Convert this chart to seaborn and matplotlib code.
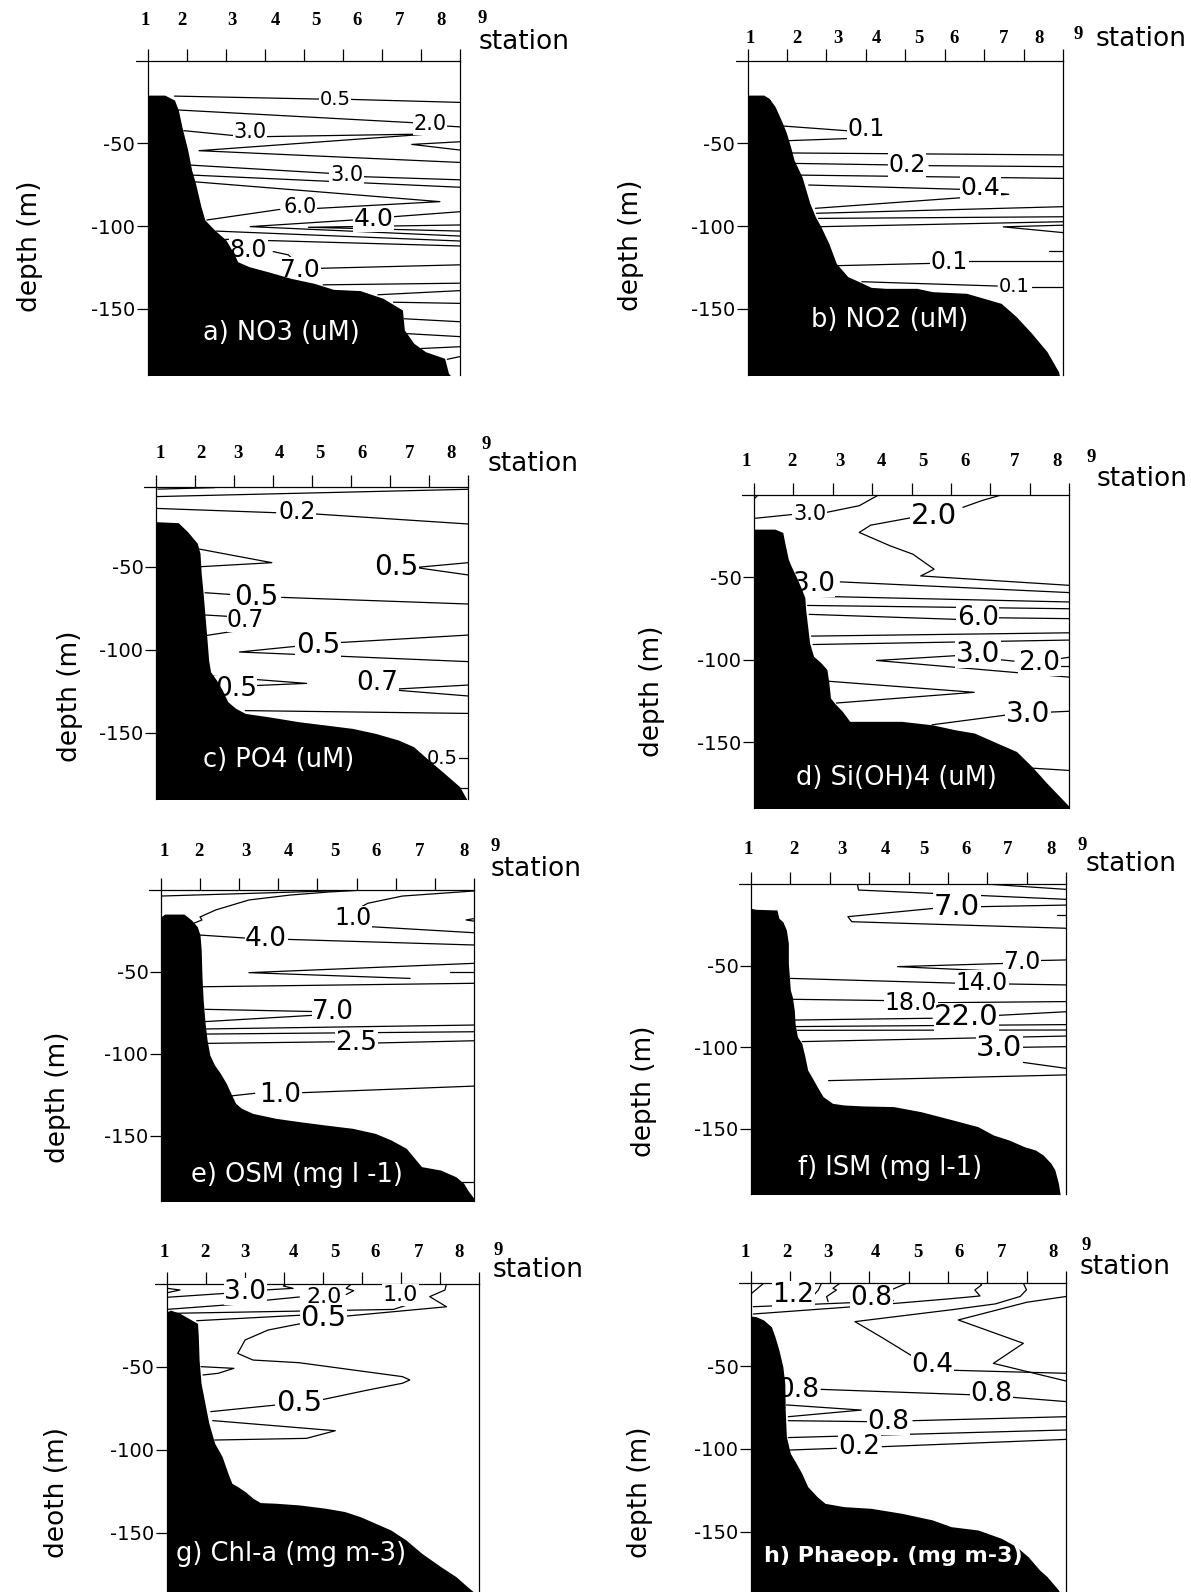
import matplotlib
matplotlib.use("Agg")
import matplotlib.pyplot as plt
import seaborn as sns

# ---------------- data (x = distance along section, 0..8 ; d = depth in m) -------------
station_labels = ["1", "2", "3", "4", "5", "6", "7", "8", "9"]

# panel a) NO3
a_bathy_x = [0, 0.44, 0.69, 0.79, 0.88, 1.03, 1.13, 1.23, 1.37, 1.47, 1.72, 2.01, 2.21, 2.31, 2.6, 3.09,
             3.68, 4.27, 4.76, 5.45, 6.03, 6.53, 6.58, 6.82, 7.12, 7.61, 7.71, 7.75]
a_bathy_d = [-20.8, -20.8, -23.8, -29.8, -39.9, -54.0, -66.1, -74.2, -88.3, -96.3, -102.4, -108.4, -116.5,
             -121.5, -124.5, -127.6, -131.6, -134.6, -138.2, -139.0, -143.6, -150.7, -162.8, -170.8,
             -175.9, -179.9, -188.9, -190]
a_lines = [
    [(0.69, -21.4), (4.42, -23.2)], [(5.2, -23.4), (8, -25.2)],
    [(0.79, -29.8), (6.82, -37.5)], [(7.65, -39.5), (8, -40)],
    [(0.93, -42.3), (2.23, -45.3)], [(2.99, -45.9), (7.21, -44.3), (1.32, -54.4), (8, -61.5)],
    [(8, -49.0), (6.77, -50.6), (8, -54.0)],
    [(1.09, -63.1), (4.68, -68.1)], [(5.49, -70.1), (8, -72)],
    [(1.0, -69), (8, -76.5)],
    [(1.1, -73), (7.49, -85.2), (4.33, -89.3)], [(3.39, -89.9), (1.52, -96.3)],
    [(8, -91.3), (6.3, -94.3)], [(5.27, -96.3), (2.63, -100.3), (8, -106)],
    [(8, -99.3), (4.12, -100.7), (8, -103)],
    [(1.75, -103), (8, -109)], [(2.0, -108), (8, -112)],
    [(3.22, -115.4), (3.61, -117.4), (3.73, -120.4)],
    [(4.42, -125.5), (8, -123.4)],
    [(4.5, -135.5), (8, -134.5)], [(5.9, -141.5), (8, -139)], [(6.3, -146), (8, -146.7)],
    [(6.58, -156), (8, -157.8)], [(6.65, -165), (8, -166.8)], [(7.0, -174), (8, -172.9)],
    [(7.68, -180.5), (8, -178.9)],
]
a_labels = [("0.5", 4.81, -23.2, 14), ("2.0", 7.24, -38.3, 15), ("3.0", 2.62, -43, 15),
            ("3.0", 5.1, -69.1, 15), ("6.0", 3.91, -88.3, 15), ("4.0", 5.79, -95.8, 18),
            ("8.0", 2.59, -114.5, 17), ("7.0", 3.91, -126.5, 18)]
a_station_x = [-0.05, 0.88, 2.16, 3.27, 4.32, 5.37, 6.46, 7.53, 8.57]

# panel b) NO2
b_bathy_x = [0, 0.41, 0.55, 0.7, 0.89, 0.99, 1.09, 1.18, 1.38, 1.48, 1.58, 1.72, 1.86, 2.06, 2.25, 2.54,
             2.83, 3.13, 3.51, 4.29, 4.68, 5.55, 6.43, 6.81, 7.2, 7.59, 7.88, 7.9]
b_bathy_d = [-20.8, -20.8, -22.8, -27.8, -37.9, -44, -52, -60.1, -70.2, -78.2, -86.3, -94.4, -100.4,
             -110.5, -122.6, -130.6, -133.7, -137.1, -137.7, -137.7, -139.7, -140.7, -146.8, -154.8,
             -164.9, -176, -188.1, -190]
b_lines = [
    [(0.89, -39.5), (2.6, -42.5)], [(3.25, -45.5), (3.37, -46.4), (0.99, -48.4)],
    [(1.0, -55.8), (8, -57)],
    [(1.1, -62.1), (3.55, -63)], [(4.6, -63.5), (8, -64.1)],
    [(1.3, -69.2), (8, -71.2)],
    [(1.55, -75.2), (5.4, -77.8)], [(6.35, -80.2), (6.62, -80.8), (1.72, -89.3)],
    [(1.75, -92.3), (8, -88.3)], [(1.8, -95.4), (8, -94.4)], [(1.85, -100.4), (8, -97.4)],
    [(8, -99.5), (6.48, -100.5), (8, -104)],
    [(7.64, -114.9), (8, -114.9)],
    [(2.25, -124), (4.68, -122.6)], [(5.55, -121.2), (8, -121.2)],
    [(2.9, -133.7), (6.33, -136.3)], [(7.2, -137.1), (8, -137.1)],
]
b_labels = [("0.1", 3.0, -41.5, 17), ("0.2", 4.05, -63.3, 17), ("0.4", 5.9, -77, 18),
            ("0.1", 5.12, -122, 17), ("0.1", 6.77, -136.5, 14)]
b_station_x = [0.07, 1.25, 2.3, 3.27, 4.34, 5.24, 6.5, 7.4, 8.39]

# panel c) PO4
c_bathy_x = [0, 0.57, 0.81, 1.06, 1.13, 1.16, 1.21, 1.26, 1.31, 1.35, 1.4, 1.55, 1.7, 1.84, 2.04, 2.29,
             2.88, 3.66, 4.35, 5.03, 5.62, 6.21, 6.6, 6.99, 7.39, 7.78, 7.96]
c_bathy_d = [-22.9, -23.5, -28.9, -35.9, -42, -54, -66.1, -80.1, -94.2, -106.2, -113.3, -118.3, -124.3,
             -131.3, -135.3, -138.4, -140.4, -143.4, -145.4, -147.4, -150.4, -154.4, -158.4, -166.5,
             -174.5, -182.5, -190]
c_lines = [
    [(0.05, -3.3), (1.5, -2.4)],
    [(0, -7.8), (8, -3.4)],
    [(0, -14.9), (3.07, -17.5)], [(4.1, -18.3), (8, -24.3)],
    [(1.11, -39.4), (2.97, -47.6), (1.16, -50)],
    [(8, -47.6), (6.65, -50.5), (8, -55)],
    [(1.26, -65.7), (1.89, -66.7)], [(3.22, -68.5), (8, -72.5)],
    [(1.26, -79.1), (1.9, -80)], [(2.65, -86.5), (1.31, -91.4)],
    [(8, -91.2), (4.64, -95.8)], [(3.66, -97.8), (2.14, -101.4), (8, -107.2)],
    [(1.4, -115.9), (3.86, -120.3), (1.45, -122.7)],
    [(8, -121.3), (5.95, -124), (8, -127.9)],
    [(2.29, -136.7), (8, -138.4)],
    [(7.7, -165.5), (8, -165.5)], [(7.75, -183.5), (8, -183.5)],
]
c_labels = [("0.2", 3.61, -17, 17), ("0.5", 6.16, -50, 20), ("0.5", 2.56, -68.1, 20),
            ("0.7", 2.3, -82, 17), ("0.5", 4.15, -97.2, 20), ("0.5", 2.05, -123.9, 19),
            ("0.7", 5.67, -120, 19), ("0.5", 7.34, -165.5, 14)]
c_station_x = [0.11, 1.16, 2.09, 3.17, 4.2, 5.28, 6.49, 7.57, 8.47]

# panel d) Si(OH)4
d_bathy_x = [0, 0.53, 0.73, 0.78, 0.87, 0.94, 1.02, 1.1, 1.21, 1.29, 1.31, 1.36, 1.41, 1.51, 1.7, 1.85,
             1.9, 1.94, 2.04, 2.24, 2.43, 2.77, 3.74, 4.52, 5.1, 5.59, 6.17, 6.66, 7.05, 7.43, 8.0, 8.0]
d_bathy_d = [-20.7, -20.7, -22.7, -28.8, -38.9, -43, -47.1, -51.1, -57.2, -62.3, -69.4, -79.5, -89.7,
             -97.8, -101.8, -105.9, -114, -123.1, -126.2, -131.2, -137.3, -137.3, -137.3, -139.4, -142.4,
             -144.4, -150.5, -155.6, -164.7, -174.8, -189, -190]
d_lines = [
    [(0, -2.5), (0.1, 0)],
    [(0, -14.2), (0.98, -11.8)], [(1.85, -10.5), (2.67, -6.5), (3.16, 0)],
    [(6.27, 0), (5.78, -3.4), (5.3, -7.5)],
    [(4.03, -13.6), (2.96, -18.3), (2.67, -22.7), (3.45, -30.8), (4.03, -35.9), (4.57, -45),
     (4.23, -49.1), (8, -54.8)],
    [(2.19, -52.7), (8, -59.2)],
    [(1.31, -61.3), (8, -64.9)],
    [(1.36, -67), (8, -69)],
    [(1.4, -72.4), (5.2, -75.5)], [(6.2, -74.5), (8, -75)], [(5.9, -77.5), (5.75, -79.7)],
    [(1.46, -85.6), (8, -83.6)],
    [(1.5, -90.7), (8, -88)],
    [(5.1, -97.5), (3.11, -100.4), (8, -110.5)],
    [(6.27, -100), (6.6, -100.8)], [(7.7, -99.5), (8, -98.4)], [(7.75, -103.6), (8, -103.6)],
    [(1.9, -113), (5.59, -119.7), (2.09, -126.2)],
    [(4.52, -139.4), (6.46, -133.3)], [(7.43, -131.8), (8, -131.2)],
    [(7.05, -165.7), (8, -167.1)],
]
d_labels = [("3.0", 1.41, -11.6, 15), ("2.0", 4.57, -13, 21), ("3.0", 1.51, -53.8, 19),
            ("6.0", 5.68, -74.5, 19), ("3.0", 5.68, -96.2, 20), ("2.0", 7.24, -101.8, 19),
            ("3.0", 6.95, -133, 20)]
d_station_x = [-0.19, 0.97, 2.19, 3.24, 4.28, 5.35, 6.61, 7.68, 8.55]

# panel e) OSM
e_bathy_x = [0, 0.1, 0.59, 0.78, 0.93, 1.0, 1.03, 1.05, 1.08, 1.13, 1.18, 1.25, 1.37, 1.52, 1.67, 1.81,
             1.91, 2.06, 2.35, 2.94, 3.53, 4.21, 4.9, 5.48, 5.88, 6.27, 6.66, 7.15, 7.54, 7.74, 7.84, 8.0,
             8.0]
e_bathy_d = [-16.3, -14.7, -14.7, -18.3, -22.4, -27.5, -36.7, -53, -67.2, -81.5, -91.6, -100.8, -106.9,
             -112, -118.1, -125.3, -130.3, -133.4, -136.5, -139.5, -141.5, -143.6, -145.6, -148.7,
             -152.7, -157.8, -169, -171.1, -175.2, -179.2, -183.3, -188.4, -190]
e_lines = [
    [(0, -3.7), (4.3, -0.6), (5.0, 0)],
    [(0.83, -20.4), (1.05, -18.3), (1.0, -16.5), (1.4, -12.2), (2.25, -6.1), (3.3, -3.1), (4.3, -1.2),
     (5.2, 0)],
    [(4.55, -17.5), (5.29, -8.1), (6.17, -3.7), (8, -0.6)],
    [(5.35, -22.4), (8, -26.1)],
    [(8, -17.5), (7.8, -18.3), (8, -19)],
    [(0.98, -27.5), (2.25, -29.5)], [(3.13, -30.1), (8, -33.6)],
    [(8, -44.8), (2.25, -50.5), (6.37, -54)],
    [(7.39, -49.9), (8, -49.9)],
    [(1.08, -59.1), (8, -57)],
    [(1.13, -72.9), (4.0, -74.3)], [(1.13, -80.4), (4.0, -76.4)],
    [(1.13, -84.9), (8, -82.5)],
    [(1.15, -88), (8, -86.6)],
    [(1.18, -93.7), (4.6, -92.7)], [(5.44, -93.5), (8, -92.1)],
    [(1.76, -125.9), (2.4, -124.2)], [(3.62, -123.8), (8, -119.8)],
    [(7.64, -178.2), (8, -178.2)],
]
e_labels = [("1.0", 4.9, -17.3, 17), ("4.0", 2.69, -29.8, 19), ("7.0", 4.4, -74.5, 19),
            ("2.5", 5.0, -93.5, 19), ("1.0", 3.04, -125.3, 19)]
e_station_x = [0.08, 0.98, 2.18, 3.25, 4.44, 5.51, 6.61, 7.76, 8.54]

# panel f) ISM
f_bathy_x = [0, 0.13, 0.66, 0.71, 0.81, 0.9, 0.95, 0.95, 1.0, 1.05, 1.1, 1.12, 1.18, 1.29, 1.37, 1.44,
             1.54, 1.68, 1.83, 2.07, 2.36, 2.85, 3.62, 4.31, 4.79, 5.28, 5.76, 6.15, 6.54, 6.93, 7.22,
             7.41, 7.61, 7.71, 7.8, 7.85]
f_bathy_d = [-14.9, -15.5, -15.9, -21, -23.1, -28.2, -36.3, -48.6, -64.9, -69, -77.1, -85.3, -93.5,
             -97.6, -105.7, -113.9, -118, -124.1, -130.2, -134.3, -135.3, -135.9, -136.3, -139.4, -142.4,
             -145.5, -148.6, -153.7, -156.7, -160.8, -162.9, -165.9, -171, -175.1, -183.3, -191]
f_lines = [
    [(2.7, 0), (2.73, -3.7), (8, -9.4)], [(5.96, 0), (8, -3.3)],
    [(8, -12.9), (5.76, -13.9)], [(4.65, -14.9), (2.46, -20), (2.56, -23.1), (8, -27.1)],
    [(7.76, -19), (8, -19)],
    [(6.49, -48.6), (3.72, -50.6), (6.54, -53.7)], [(7.22, -46.9), (8, -46.5)],
    [(1.0, -57.8), (5.33, -60.8)], [(6.44, -61.2), (8, -61.8)],
    [(1.05, -70.6), (3.53, -71.4)], [(4.6, -72.7), (8, -72)],
    [(1.1, -83.3), (4.6, -82.2)], [(6.3, -80.4), (8, -78.2)],
    [(1.12, -87.3), (8, -86.1)],
    [(1.18, -89.6), (8, -89.4)],
    [(1.3, -96.5), (8, -93.1)],
    [(5.85, -100.6), (5.76, -102.6), (5.9, -104.7)], [(6.8, -100), (8, -99.6)],
    [(6.15, -106.7), (8, -112.9)],
    [(1.97, -120.4), (8, -116.9)],
]
f_labels = [("7.0", 5.23, -13.9, 21), ("7.0", 6.88, -47.6, 17), ("14.0", 5.86, -60.4, 17),
            ("18.0", 4.06, -72.7, 17), ("22.0", 5.47, -81.6, 21), ("3.0", 6.3, -100.6, 21)]
f_station_x = [-0.07, 1.08, 2.31, 3.4, 4.4, 5.45, 6.52, 7.61, 8.41]

# panel g) Chl-a
g_bathy_x = [0, 0.1, 0.34, 0.64, 0.79, 0.81, 0.83, 0.88, 0.98, 1.08, 1.23, 1.42, 1.57, 1.67, 1.82, 2.01,
             2.21, 2.4, 2.8, 3.39, 4.07, 4.56, 4.96, 5.35, 5.74, 6.13, 6.53, 7.02, 7.41, 7.7, 7.85, 7.97]
g_bathy_d = [-16.9, -15.9, -17.9, -21.9, -23.9, -31.9, -46, -60, -72.1, -84.1, -96.2, -104.2, -114.3,
             -120.3, -122.3, -125.3, -129.3, -131.9, -132.3, -133.3, -135.3, -137.3, -140.4, -144.4,
             -148.4, -154.4, -162.4, -170.5, -176.5, -182.5, -185.5, -190]
g_lines = [
    [(0.02, -2.8), (0.34, -3.8), (0.02, -5.4)],
    [(0.0, -8.2), (1.52, -5.8)], [(2.5, -3.8), (3.24, -2.8), (2.99, -1.4), (3.09, 0)],
    [(0.0, -15.5), (1.7, -12.5), (1.95, -10.5), (1.75, -10)],
    [(2.1, -11), (3.4, -8)], [(4.6, -6.5), (4.79, -4.2), (4.6, -2.8), (4.74, 0)],
    [(6.14, -3.8), (6.32, 0)],
    [(0.04, -17.9), (5.81, -15.5), (6.15, -12.9), (5.98, -9.8)],
    [(0.77, -22.3), (3.5, -18.9)],
    [(4.61, -19.5), (7.17, -13.9), (6.74, -7.8), (7.13, -3.8), (7.17, 0)],
    [(3.58, -23.4), (2.6, -27.9), (2.01, -33.9), (1.82, -42), (2.21, -46), (3.39, -47.6), (6.04, -56),
     (6.23, -58), (6.04, -60), (5.15, -64.1), (4.0, -69.8)],
    [(2.8, -73.1), (1.13, -77.1)],
    [(0.88, -50), (1.72, -51), (1.32, -54), (0.93, -55)],
    [(1.18, -82.5), (4.32, -88.6), (3.58, -93.2), (1.23, -94.2)],
]
g_labels = [("3.0", 2.01, -4.8, 19), ("2.0", 4.02, -7.8, 16), ("1.0", 5.99, -6.8, 16),
            ("0.5", 4.01, -20.9, 21), ("0.5", 3.39, -72.1, 21)]
g_station_x = [-0.07, 0.98, 2.01, 3.24, 4.3, 5.35, 6.45, 7.49, 8.49]

# panel h) Phaeopigments
h_bathy_x = [0, 0.13, 0.32, 0.52, 0.61, 0.71, 0.81, 0.86, 0.87, 0.9, 1.0, 1.15, 1.29, 1.44, 1.68, 1.88,
             2.36, 3.04, 3.82, 4.6, 5.08, 5.76, 6.35, 6.73, 7.03, 7.32, 7.51, 7.8, 7.9]
h_bathy_d = [-19.8, -20.2, -22.2, -26.3, -32.3, -40.3, -50.4, -60.5, -76.6, -92.7, -102.7, -108.8,
             -114.8, -122.8, -128.9, -132.9, -134.9, -135.9, -138.9, -142.9, -147, -149, -154, -159,
             -165.1, -173.1, -177.1, -185.2, -190]
h_lines = [
    [(0.02, -6.1), (0.27, -1.1), (0.33, 0)],
    [(0.06, -14.2), (2.51, -11.8)], [(1.41, -12.2), (1.71, -4.1), (1.79, 0)],
    [(1.96, -11.2), (1.92, -8.1), (2.17, -4.1), (2.08, -3.1), (2.26, 0)],
    [(3.44, -10.2), (3.61, -10.6), (3.36, -6.1), (3.95, 0)],
    [(0.06, -18.6), (3.0, -13.5), (5.0, -9.5), (5.64, -8.1), (5.81, -7.7), (5.68, -4.1), (5.85, -1.1),
     (5.81, 0)],
    [(6.91, 0), (6.99, -4), (6.83, -8), (6.2, -12.5), (5.1, -16), (2.64, -23.2), (3.36, -33.3),
     (4.12, -44.4), (4.3, -47)],
    [(5.0, -52.5), (8, -54.4)],
    [(8, -8), (7.0, -11.5), (5.26, -22.2), (6.91, -36.3), (6.15, -48.4), (8, -59.1)],
    [(1.78, -64.1), (5.76, -67.5)], [(6.64, -68.9), (8, -71.5)],
    [(0.9, -73.5), (2.8, -76.6), (0.95, -80.6)],
    [(0.95, -83), (3.04, -83.6)], [(4.11, -83), (8, -80.6)],
    [(0.95, -93.2), (8, -88.6)],
    [(1.0, -100.7), (2.17, -99.7)], [(3.33, -98.7), (8, -94.3)],
]
h_labels = [("1.2", 1.08, -7.1, 19), ("0.8", 3.06, -9.2, 19), ("0.4", 4.6, -49.4, 19),
            ("0.8", 1.2, -64.5, 19), ("0.8", 6.1, -66.8, 19), ("0.8", 3.48, -83.6, 19),
            ("0.2", 2.75, -98.7, 19)]
h_station_x = [-0.14, 0.9, 1.95, 3.17, 4.24, 5.28, 6.37, 7.66, 8.5]

titles = ["a) NO3 (uM)", "b) NO2 (uM)", "c) PO4 (uM)", "d) Si(OH)4 (uM)",
          "e) OSM (mg l -1)", "f) ISM (mg l-1)", "g) Chl-a (mg m-3)", "h) Phaeop. (mg m-3)"]
ylabels = ["depth (m)"] * 6 + ["deoth (m)", "depth (m)"]
depth_ticks = [-50, -100, -150]

# ---------------- layout (pixels of the 1191 x 1592 figure) ----------------
W, H = 1191, 1592
# left, right, top, bottom(-190 m), depth at top line
geom = [(147.5, 459.8, 60.7, 375.0, 0), (747.5, 1063.2, 60.7, 374.8, 0),
        (155.9, 468.2, 487.3, 799.1, -2.2), (754.0, 1069.3, 495.0, 808.2, 0),
        (160.9, 473.9, 890.0, 1201.0, 0), (750.9, 1066.3, 884.0, 1194.3, 0),
        (166.7, 478.9, 1283.7, 1599.0, 0), (750.9, 1066.3, 1283.2, 1597.9, 0)]
# station label offsets above the top line (px): digits, "9", "station"
lab_dy = [(40, 42, 19), (22, 26, 22), (34, 43, 23), (33, 37, 16),
          (39, 44, 21), (35, 39, 20), (31, 33, 14), (31, 38, 16)]
station_word_x = [8.49, 8.81, 8.5, 8.7, 8.42, 8.49, 8.36, 8.33]
title_pos = [(1.42, -164.8), (1.62, -156.9), (1.21, -166.5), (1.07, -171.8),
             (0.78, -174.1), (1.2, -174.1), (0.25, -163.0), (0.33, -165.0)]
ylabel_pos = [(30, 246), (631, 245), (70, 696), (652, 691), (58, 1097), (644, 1091), (57, 1493), (640, 1492)]

bathy_x = [a_bathy_x, b_bathy_x, c_bathy_x, d_bathy_x, e_bathy_x, f_bathy_x, g_bathy_x, h_bathy_x]
bathy_d = [a_bathy_d, b_bathy_d, c_bathy_d, d_bathy_d, e_bathy_d, f_bathy_d, g_bathy_d, h_bathy_d]
all_lines = [a_lines, b_lines, c_lines, d_lines, e_lines, f_lines, g_lines, h_lines]
all_labels = [a_labels, b_labels, c_labels, d_labels, e_labels, f_labels, g_labels, h_labels]
all_station_x = [a_station_x, b_station_x, c_station_x, d_station_x, e_station_x, f_station_x,
                 g_station_x, h_station_x]

sns.set_style("white")
plt.rcParams['font.family'] = ['DejaVu Sans']
plt.rcParams['axes.unicode_minus'] = False
for key in ['text.color', 'axes.labelcolor', 'xtick.color', 'ytick.color', 'axes.edgecolor']:
    plt.rcParams[key] = 'black'
SERIF = ['Liberation Serif', 'DejaVu Serif']
PT = 0.72  # points per pixel at dpi 100

fig = plt.figure(figsize=(W / 100, H / 100), dpi=100)

for i in range(8):
    L, R, T, B, top = geom[i]
    ax = fig.add_axes([L / W, 1 - B / H, (R - L) / W, (B - T) / H])

    for pl in all_lines[i]:
        xs = [p[0] for p in pl]
        ds = [p[1] for p in pl]
        sns.lineplot(x=xs, y=ds, sort=False, estimator=None, color='black', linewidth=0.9,
                     ax=ax, legend=False, zorder=2)

    for txt, x, d, fs in all_labels[i]:
        ax.text(x, d, txt, ha='center', va='center', fontsize=fs, color='black', zorder=3,
                bbox=dict(facecolor='white', edgecolor='none', pad=0.4))

    ax.fill_between(bathy_x[i], bathy_d[i], -200, color='black', linewidth=0, zorder=4)

    tx, td = title_pos[i]
    ax.text(tx, td, titles[i], color='white', fontsize=16 if i == 7 else 18.5,
            fontweight='bold' if i == 7 else 'normal', ha='left', va='center', zorder=5)

    ax.set_xlim(0, 8)
    ax.set_ylim(-190, top)
    ax.set_xlabel("")
    ax.set_ylabel("")

    ax.xaxis.tick_top()
    ax.set_xticks(range(9))
    ax.set_xticklabels([])
    ax.tick_params(axis='x', direction='out', length=9, width=0.9, top=True, bottom=False,
                   labeltop=False, labelbottom=False)
    ax.set_yticks(depth_ticks)
    ax.set_yticklabels([str(v) for v in depth_ticks], fontsize=14)
    ax.tick_params(axis='y', direction='out', length=8, width=0.9, pad=1, left=True)

    for side in ['top', 'left', 'right']:
        ax.spines[side].set_visible(True)
        ax.spines[side].set_linewidth(0.9)
        ax.spines[side].set_color('black')
    ax.spines['bottom'].set_visible(False)

    ax.plot([-0.3, 0], [top, top], color='black', linewidth=0.9, clip_on=False)

    dy, dy9, dys = lab_dy[i]
    for lbl, x in zip(station_labels, all_station_x[i]):
        ax.annotate(lbl, xy=(x, top), xytext=(0, (dy9 if lbl == "9" else dy) * PT),
                    textcoords='offset points', ha='center', va='center', fontsize=13.5,
                    fontweight='bold', family=SERIF, annotation_clip=False)
    ax.annotate("station", xy=(station_word_x[i], top), xytext=(0, dys * PT),
                textcoords='offset points', ha='left', va='center', fontsize=19,
                annotation_clip=False)

    px, py = ylabel_pos[i]
    fig.text(px / W, 1 - py / H, ylabels[i], rotation=90, ha='center', va='center', fontsize=19)

fig.savefig("out.png", dpi=100)
